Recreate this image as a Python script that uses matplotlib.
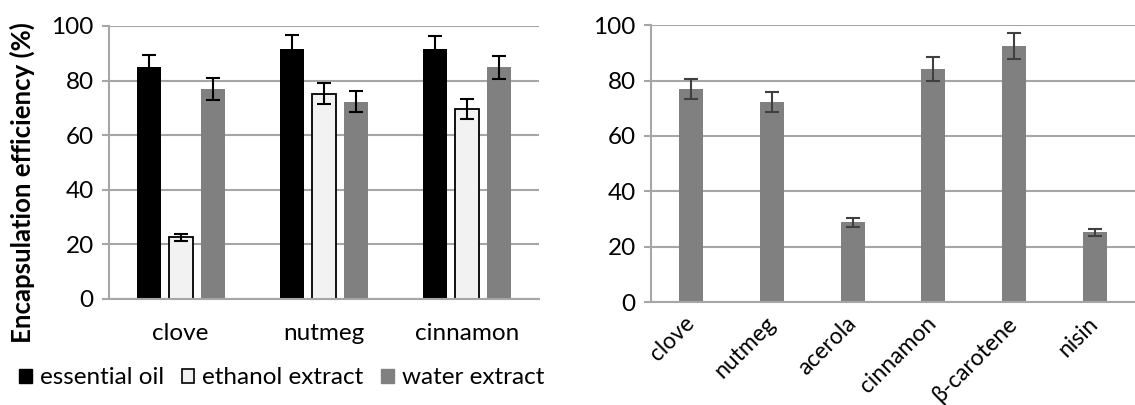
import numpy as np
import matplotlib.pyplot as plt
from matplotlib.patches import Patch

plt.rcParams['font.family'] = ['Lato', 'DejaVu Sans']

# left panel data
groups = ["clove", "nutmeg", "cinnamon"]
series = ["essential oil", "ethanol extract", "water extract"]
essential_oil = [85.1, 91.7, 91.7]
essential_oil_err = [4.2, 5.0, 4.6]
ethanol_extract = [22.6, 75.2, 69.6]
ethanol_extract_err = [1.3, 3.8, 3.6]
water_extract = [76.9, 72.3, 84.9]
water_extract_err = [4.0, 3.8, 4.2]

# right panel data
compounds = ["clove", "nutmeg", "acerola", "cinnamon", "β-carotene", "nisin"]
compound_eff = [76.9, 72.3, 28.8, 84.3, 92.5, 25.2]
compound_err = [3.7, 3.7, 1.5, 4.3, 4.7, 1.3]

grid_col = "#a6a6a6"
fs = 17.5

fig = plt.figure(figsize=(11.35, 4.05), dpi=100)
ax1 = fig.add_axes([0.096, 0.262, 0.379, 0.674])
ax2 = fig.add_axes([0.5736, 0.254, 0.4264, 0.684])


def style(ax):
    ax.set_ylim(0, 100)
    ax.set_yticks(np.arange(0, 101, 20))
    ax.yaxis.grid(True, color=grid_col, lw=1.5)
    ax.set_axisbelow(True)
    for s in ["top", "right"]:
        ax.spines[s].set_visible(False)
    for s in ["left", "bottom"]:
        ax.spines[s].set_color(grid_col)
        ax.spines[s].set_linewidth(1.5)
    ax.tick_params(axis="y", length=5, width=1.5, color=grid_col,
                   labelsize=fs, pad=6, labelcolor="black")
    ax.tick_params(axis="x", length=0, labelsize=fs, labelcolor="black")


x = np.arange(len(groups))
w = 0.168
off = 0.223
ekw = dict(ecolor="black", elinewidth=1.5, capsize=5, capthick=1.5)
ax1.bar(x - off, essential_oil, w, yerr=essential_oil_err, color="black",
        error_kw=ekw, label=series[0])
ax1.bar(x, ethanol_extract, w, yerr=ethanol_extract_err, color="#f2f2f2",
        edgecolor="black", linewidth=1.3, error_kw=ekw, label=series[1])
ax1.bar(x + off, water_extract, w, yerr=water_extract_err, color="#808080",
        error_kw=ekw, label=series[2])
style(ax1)
ax1.set_xlim(-0.5, len(groups) - 0.5)
ax1.set_xticks(x)
ax1.set_xticklabels(groups)
ax1.tick_params(axis="x", pad=17)
fig.text(0.02, 0.549, "Encapsulation efficiency (%)", rotation=90,
         fontsize=18.5, fontweight="bold", ha="center", va="center")

handles = [Patch(facecolor="black", edgecolor="black"),
           Patch(facecolor="#f2f2f2", edgecolor="black", linewidth=1.2),
           Patch(facecolor="#808080", edgecolor="#808080")]
fig.legend(handles, series, loc="center left", bbox_to_anchor=(0.017, 0.067),
           ncol=3, frameon=False, fontsize=fs, handlelength=0.53,
           handleheight=0.53, handletextpad=0.32, columnspacing=0.72,
           borderpad=0, borderaxespad=0)

x2 = np.arange(len(compounds))
ax2.bar(x2, compound_eff, 0.30, yerr=compound_err, color="#808080",
        error_kw=dict(ecolor="#404040", elinewidth=1.5, capsize=5, capthick=1.5))
style(ax2)
ax2.set_xlim(-0.5, len(compounds) - 0.5)
ax2.set_xticks(x2)
ax2.set_xticklabels(compounds, rotation=45, ha="right", va="center",
                    rotation_mode="anchor", fontsize=16.5)
ax2.tick_params(axis="x", pad=13)

fig.savefig("out.png", dpi=100)
